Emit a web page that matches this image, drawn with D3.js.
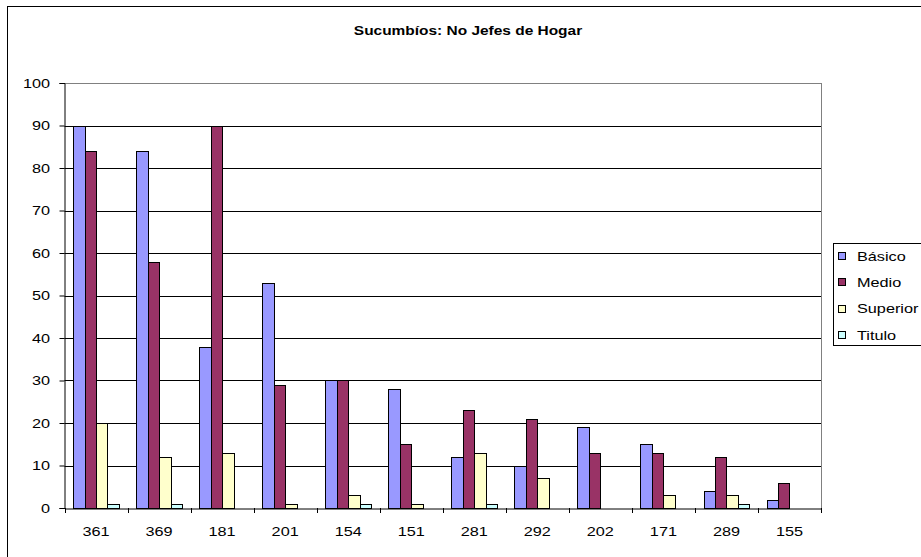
<!DOCTYPE html>
<html><head><meta charset="utf-8">
<script src="https://cdn.jsdelivr.net/npm/d3@7/dist/d3.min.js"></script>
<style>body{margin:0;background:#fff}svg{display:block;font-family:"Liberation Sans",Arial,sans-serif}</style>
</head><body><svg id="c" width="921" height="557"></svg>
<script>
const categories = ["361","369","181","201","154","151","281","292","202","171","289","155"];
const seriesNames = ["Básico","Medio","Superior","Titulo"];
const basico   = [90,84,38,53,30,28,12,10,19,15,4,2];
const medio    = [84,58,90,29,30,15,23,21,13,13,12,6];
const superior = [20,12,13,1,3,1,13,7,0,3,3,0];
const titulo   = [1,1,0,0,1,0,1,0,0,0,1,0];
const yTicks = [0,10,20,30,40,50,60,70,80,90,100];
const colors = ["#9999FF","#993366","#FFFFCC","#CCFFFF"];
const seriesValues = [basico, medio, superior, titulo];

const SX = 1.25; // horizontal text stretch seen in reference
const svg = d3.select("#c");
const L = 64.5, R = 821, T = 83, B = 508;

// outer frame
svg.append("rect").attr("x",7.5).attr("y",6.5).attr("width",930).attr("height",560)
  .attr("fill","none").attr("stroke","#000").attr("stroke-width",1);

svg.append("text").attr("transform","translate(468,35) scale(1.19,1)").attr("text-anchor","middle")
  .attr("font-weight","bold").attr("font-size",13).text("Sucumbíos: No Jefes de Hogar");

const y = d3.scaleLinear().domain([0,100]).range([B,T]);
const x0 = d3.scaleBand().domain(categories).range([L,R]).paddingInner(0).paddingOuter(0);
// Excel gap 150%: outer padding 0.75 bar width each side
const x1 = d3.scaleBand().domain(seriesNames).range([0,x0.bandwidth()]).paddingInner(0).paddingOuter(0.75);

// gridlines
svg.append("g").selectAll("line").data(yTicks.filter(d=>d>0)).join("line")
  .attr("x1",L).attr("x2",R).attr("y1",d=>Math.round(y(d))+0.5).attr("y2",d=>Math.round(y(d))+0.5)
  .attr("stroke",d=>d===100?"#808080":"#000").attr("stroke-width",1);
svg.append("line").attr("x1",R+0.5).attr("x2",R+0.5).attr("y1",T).attr("y2",B).attr("stroke","#808080");

// bars
const g = svg.append("g");
categories.forEach((c,i)=>{
  seriesNames.forEach((s,j)=>{
    const v = seriesValues[j][i];
    if(v<=0) return;
    const bx = x0(c)+x1(s);
    const bx2 = bx + x1.bandwidth();
    g.append("rect").attr("x",Math.round(bx)+0.5).attr("y",Math.round(y(v))+0.5)
      .attr("width",Math.round(bx2)-Math.round(bx)).attr("height",Math.round(y(0))-Math.round(y(v)))
      .attr("fill",colors[j]).attr("stroke","#000").attr("stroke-width",1);
  });
});

// y axis
const ya = svg.append("g").attr("transform",`translate(${L},0)`)
  .call(d3.axisLeft(y).tickValues(yTicks).tickSize(5).tickPadding(6.6));
ya.select(".domain").attr("stroke","#000");
ya.selectAll("line").attr("stroke","#000");
ya.selectAll("text").each(function(){
  const t = d3.select(this); const xv = +t.attr("x");
  t.attr("x",0).attr("transform",`translate(${xv*SX},0) scale(${SX},1)`);
}).attr("font-size",13).attr("font-family","Liberation Sans, Arial, sans-serif").attr("fill","#000");

// x axis
const xa = svg.append("g").attr("transform",`translate(0,${B+0.5})`)
  .call(d3.axisBottom(x0).tickSize(0).tickPadding(18));
xa.select(".domain").attr("stroke","#000");
xa.selectAll("text").attr("transform",`scale(${SX},1)`)
  .attr("font-size",13).attr("font-family","Liberation Sans, Arial, sans-serif").attr("fill","#000");
svg.append("g").selectAll("line").data(d3.range(categories.length+1)).join("line")
  .attr("x1",i=>Math.round(L+i*x0.bandwidth())+0.5).attr("x2",i=>Math.round(L+i*x0.bandwidth())+0.5)
  .attr("y1",B).attr("y2",B+5).attr("stroke","#000");

// legend
const lg = svg.append("g");
lg.append("rect").attr("x",833.5).attr("y",243.5).attr("width",100).attr("height",102)
  .attr("fill","#fff").attr("stroke","#000");
seriesNames.forEach((s,j)=>{
  const yy = 256 + j*26.3;
  lg.append("rect").attr("x",838.5).attr("y",Math.round(yy-4)+0.5).attr("width",7).attr("height",7)
    .attr("fill",colors[j]).attr("stroke","#000");
  lg.append("text").attr("transform",`translate(857,${yy+4.7}) scale(${SX},1)`).attr("font-size",13).text(s);
});
</script></body></html>
